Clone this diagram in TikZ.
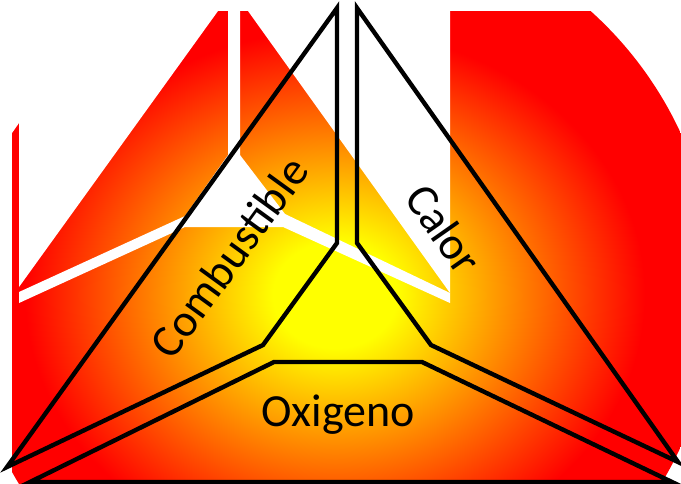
\documentclass[tikz,border=0pt]{standalone}
\usepackage{fontspec}
\setmainfont{Carlito}
\pgfdeclareradialshading{fireglow}{\pgfpointorigin}{color(0bp)=(yellow); color(5bp)=(yellow); color(25bp)=(red); color(50bp)=(red)}
\begin{document}
\begin{tikzpicture}[x=0.75pt,y=-0.75pt,
  piece/.style={line width=3.3pt,line join=miter},
  tag/.style={font=\fontsize{34.5}{40}\selectfont,inner sep=0pt}]
  \useasboundingbox (0,0) rectangle (681,483);
  \begin{scope}
    \clip (12,11) rectangle (681,490);
    \clip (340,290) circle (375);
    \fill[red] (0,0) rectangle (681,490);
    \shade[shading=fireglow] (335,295) ellipse (310 and 265);
  \end{scope}
  % white cut-outs
  \fill[white] (12,11) -- (218,11) -- (19,287) -- (19,123) -- (12,133) -- cycle;
  \fill[white] (228,11) -- (240,11) -- (240,155) -- (285,214) -- (450,293) -- (450,303)
    -- (283,227) -- (185,227) -- (19,303) -- (19,292) -- (185,216) -- (228,155) -- cycle;
  \fill[white] (248,11) -- (450,11) -- (450,293) -- cycle;
  % the three pieces
  \draw[piece] (7,467) -- (337,8) -- (337,243) -- (263,345) -- cycle;
  \draw[piece] (357,8) -- (678,462) -- (431,345) -- (357,243) -- cycle;
  \draw[piece] (30,482) -- (274,362) -- (422,362) -- (672,482) -- cycle;
  \node[tag,rotate=54] (comb) at (229,257) {Combustible};
  \node[tag,rotate=-55] (calor) at (444,229) {Calor};
  \node[tag,anchor=base] (oxi) at (338,426) {Oxigeno};
\end{tikzpicture}
\end{document}
